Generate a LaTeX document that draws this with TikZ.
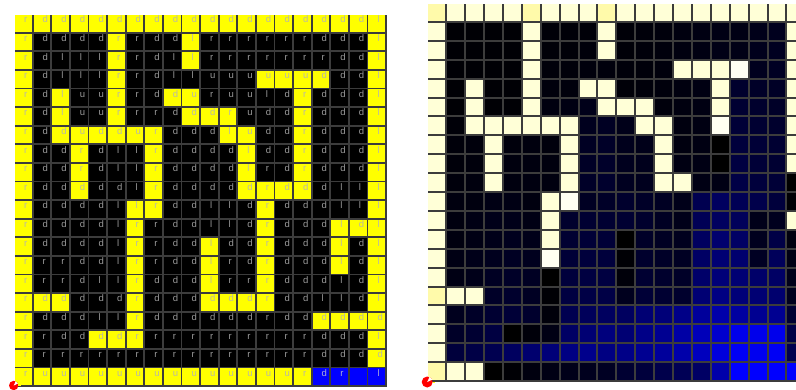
\documentclass[tikz,border=0pt]{standalone}
\usepackage{fontspec}
\setmainfont{Liberation Sans}
\definecolor{lY}{RGB}{255,255,0}
\definecolor{lB}{RGB}{0,0,0}
\definecolor{lU}{RGB}{0,0,255}
\definecolor{lE}{RGB}{0,0,255}
\definecolor{tY}{RGB}{185,185,165}
\definecolor{tB}{RGB}{155,155,155}
\definecolor{tU}{RGB}{170,170,215}
\definecolor{tE}{RGB}{0,0,255}
\definecolor{gridc}{RGB}{60,60,60}
\definecolor{creamC}{RGB}{255,255,215}
\definecolor{creamW}{RGB}{255,255,242}
\definecolor{creamY}{RGB}{255,250,170}
\tikzset{lettr/.style={anchor=base west,inner sep=0pt,font=\fontsize{9.5}{10}\selectfont}}
\newcommand\lrow[2]{%
  \foreach \ch/\co [count=\i from 0] in {#2} {
    \pgfmathsetmacro\xx{15+\i*18.6}
    \pgfmathsetmacro\yy{15+#1*18.6}
    \fill[fill=l\co] (\xx,\yy) rectangle ++(16.8,16.8);
    \node[lettr,text=t\co] (L#1-\i) at (\xx+8.9,\yy+7.9) {\ch};
  }}
\newcommand\rrow[2]{%
  \foreach \v [count=\i from 0] in {#2} {
    \pgfmathsetmacro\xx{428.3+\i*18.9}
    \pgfmathsetmacro\yy{4+#1*18.9}
    \ifnum\v=-1 \def\fc{creamC}\else\ifnum\v=-2 \def\fc{creamW}\else\ifnum\v=-3 \def\fc{creamY}\else\definecolor{tmpc}{RGB}{0,0,\v}\def\fc{tmpc}\fi\fi\fi
    \fill[fill=\fc] (\xx,\yy) rectangle ++(16.9,16.9);
  }}
\begin{document}
\begin{tikzpicture}[x=1pt,y=-1pt]
\useasboundingbox (0,0) rectangle (796,389);
\clip (0,0) rectangle (796,389);
\fill[white] (0,0) rectangle (796,389);
% ---------- left grid ----------
\fill[gridc] (15,15) rectangle (387,387);
\lrow{0}{r/Y,d/Y,d/Y,d/Y,d/Y,d/Y,d/Y,d/Y,d/Y,d/Y,d/Y,d/Y,d/Y,d/Y,d/Y,d/Y,d/Y,d/Y,d/Y,l/Y}
\lrow{1}{r/Y,d/B,d/B,d/B,d/B,r/Y,r/B,d/B,d/B,l/Y,r/B,r/B,r/B,r/B,r/B,r/B,d/B,d/B,d/B,l/Y}
\lrow{2}{r/Y,d/B,l/B,l/B,l/B,r/Y,r/B,d/B,l/B,l/Y,r/B,r/B,r/B,r/B,r/B,r/B,r/B,d/B,d/B,l/Y}
\lrow{3}{r/Y,d/B,l/B,l/B,l/B,r/Y,r/B,d/B,l/B,l/B,u/B,u/B,u/B,u/Y,u/Y,u/Y,d/Y,d/B,d/B,l/Y}
\lrow{4}{r/Y,d/B,l/Y,u/B,u/B,r/Y,r/B,d/B,d/Y,u/Y,r/B,u/B,u/B,l/B,d/B,r/Y,d/B,d/B,d/B,l/Y}
\lrow{5}{r/Y,d/B,l/Y,u/B,u/B,r/Y,r/B,r/B,d/B,d/Y,d/Y,r/Y,u/B,d/B,d/B,r/Y,d/B,d/B,d/B,l/Y}
\lrow{6}{r/Y,d/B,d/Y,u/Y,d/Y,d/Y,u/Y,r/Y,d/B,d/B,d/B,l/Y,u/Y,d/B,d/B,r/Y,d/B,d/B,d/B,l/Y}
\lrow{7}{r/Y,d/B,d/B,r/Y,d/B,l/B,l/B,r/Y,d/B,d/B,d/B,d/B,l/Y,d/B,d/B,r/Y,d/B,d/B,d/B,l/Y}
\lrow{8}{r/Y,d/B,d/B,r/Y,d/B,l/B,l/B,r/Y,d/B,d/B,d/B,d/B,l/Y,r/B,d/B,r/Y,d/B,d/B,d/B,l/Y}
\lrow{9}{r/Y,d/B,d/B,d/Y,d/B,d/B,l/B,r/Y,d/B,d/B,d/B,d/B,d/Y,r/Y,d/Y,d/Y,d/B,l/B,l/B,l/Y}
\lrow{10}{r/Y,d/B,d/B,d/B,d/B,l/B,l/Y,r/Y,d/B,d/B,l/B,l/B,d/B,r/Y,d/B,d/B,d/B,l/B,l/B,l/Y}
\lrow{11}{r/Y,d/B,d/B,d/B,d/B,l/B,r/Y,r/B,d/B,d/B,l/B,l/B,d/B,r/Y,d/B,d/B,d/B,l/Y,d/Y,l/Y}
\lrow{12}{r/Y,d/B,d/B,d/B,d/B,l/B,r/Y,r/B,d/B,d/B,l/Y,d/B,d/B,r/Y,d/B,d/B,d/B,l/Y,d/B,l/Y}
\lrow{13}{r/Y,r/B,r/B,d/B,d/B,l/B,r/Y,r/B,d/B,d/B,l/Y,r/B,d/B,r/Y,d/B,d/B,d/B,l/Y,d/B,l/Y}
\lrow{14}{r/Y,r/B,r/B,d/B,l/B,l/B,r/Y,d/B,d/B,d/B,l/Y,r/B,r/B,r/Y,d/B,d/B,d/B,l/B,d/B,l/Y}
\lrow{15}{r/Y,d/Y,d/Y,d/B,d/B,d/B,r/Y,d/B,d/B,d/B,d/Y,d/Y,d/Y,r/Y,d/B,d/B,l/B,l/B,d/B,l/Y}
\lrow{16}{r/Y,d/B,d/B,d/B,l/B,l/B,r/Y,d/B,d/B,d/B,d/B,d/B,d/B,r/B,d/B,d/B,d/Y,d/Y,d/Y,d/Y}
\lrow{17}{r/Y,r/B,d/B,d/B,d/Y,d/Y,r/Y,r/B,r/B,r/B,r/B,r/B,r/B,r/B,r/B,r/B,d/B,d/B,d/B,l/Y}
\lrow{18}{r/Y,r/B,r/B,r/B,r/B,r/B,r/B,r/B,r/B,r/B,r/B,r/B,r/B,r/B,r/B,r/B,d/B,d/B,d/B,d/Y}
\lrow{19}{r/Y,u/Y,u/Y,u/Y,u/Y,u/Y,u/Y,u/Y,u/Y,u/Y,u/Y,u/Y,u/Y,u/Y,u/Y,r/Y,d/U,r/U,l/E,l/U}
% ---------- right grid ----------
\fill[gridc] (428.3,4) rectangle (806.3,382);
\rrow{0}{-3,-1,-1,-1,-1,-3,-1,-1,-1,-3,-1,-1,-1,-1,-1,-1,-1,-1,-1,-1}
\rrow{1}{-1,5,5,5,5,-1,8,8,8,-1,8,10,12,15,18,20,20,25,30,-1}
\rrow{2}{-1,5,5,5,5,-1,8,8,10,-1,8,10,12,15,18,22,22,28,32,-1}
\rrow{3}{-1,5,5,5,5,-1,10,10,12,12,10,10,12,-1,-1,-1,-2,30,35,-1}
\rrow{4}{-1,5,-1,5,5,-1,12,12,-1,-1,8,10,12,15,18,-1,45,40,38,-1}
\rrow{5}{-1,5,-1,5,5,-1,15,18,25,-1,-1,-1,12,15,18,-1,50,45,40,-1}
\rrow{6}{-1,8,-1,-1,-1,-1,-1,-1,30,35,25,-1,-1,15,18,-2,55,50,45,-1}
\rrow{7}{-1,10,12,-1,12,14,12,-1,35,40,28,25,-1,15,18,0,60,55,50,-1}
\rrow{8}{-1,10,12,-1,14,15,14,-1,38,42,30,28,-1,18,20,0,65,55,50,-1}
\rrow{9}{-1,12,14,-1,15,16,15,-1,40,45,32,30,-1,-1,20,20,70,60,55,0}
\rrow{10}{-1,15,15,20,20,15,-1,-2,35,40,45,40,35,25,80,95,85,75,60,5}
\rrow{11}{-1,15,20,25,25,20,-1,45,50,50,50,45,35,25,85,95,90,25,30,-1}
\rrow{12}{-1,15,20,25,30,25,-1,50,55,55,0,40,35,30,95,110,100,30,70,15}
\rrow{13}{-1,20,25,30,35,30,-2,55,60,60,5,45,40,35,100,115,110,35,90,20}
\rrow{14}{-1,20,25,35,40,35,0,60,65,65,10,50,45,40,105,120,115,105,100,25}
\rrow{15}{-3,-1,-1,40,45,35,5,65,70,70,30,55,50,45,115,130,120,115,110,30}
\rrow{16}{-1,30,40,50,55,45,10,80,90,95,95,115,120,135,155,170,160,145,145,50}
\rrow{17}{-1,40,50,65,0,10,20,100,115,125,115,135,145,165,185,205,235,235,235,70}
\rrow{18}{-1,60,70,80,95,110,120,130,140,130,135,145,155,170,190,220,245,240,245,80}
\rrow{19}{-3,-1,-1,0,5,15,20,25,30,35,50,60,75,85,100,170,255,255,255,255}
% ---------- agent markers ----------
\fill[red] (13.7,385.5) circle (4.7);
\fill[white] (13.7,385.5) -- ++(-25:4.7) arc[start angle=-25,end angle=-65,radius=4.7] -- cycle;
\draw[lY,line width=1pt] (18.4,385.5) -- ++(2.5,0);
\fill[red] (427.2,382) circle (5.5);
\fill[white] (427.2,382) -- ++(-25:5.5) arc[start angle=-25,end angle=-65,radius=5.5] -- cycle;
\draw[lY,line width=1pt] (432.7,382) -- ++(2.5,0);
\end{tikzpicture}
\end{document}
